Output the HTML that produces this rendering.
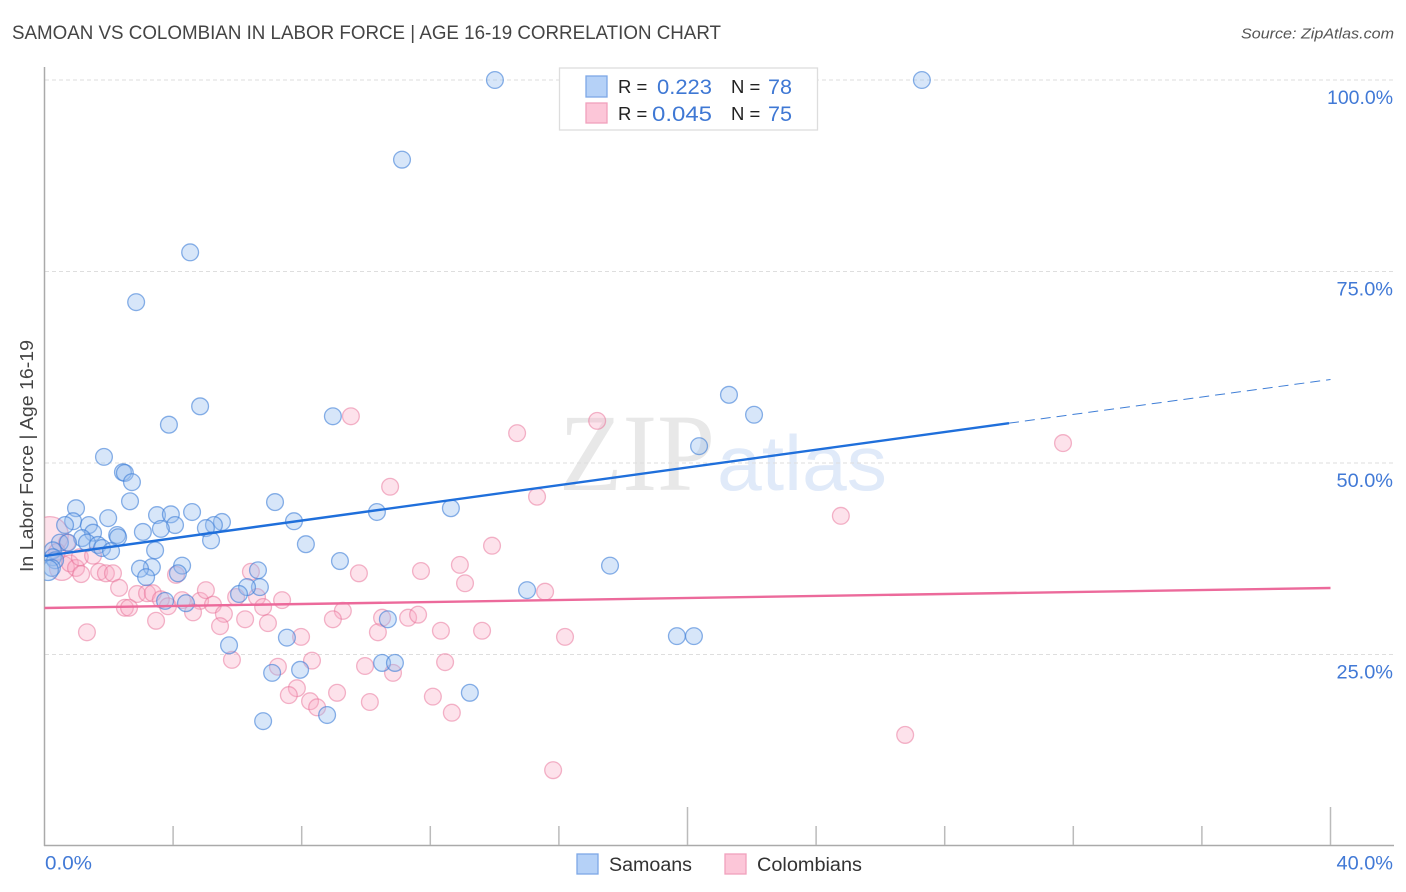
<!DOCTYPE html>
<html lang="en">
<head>
<meta charset="utf-8">
<title>Samoan vs Colombian in Labor Force | Age 16-19 Correlation Chart</title>
<style>
html,body{margin:0;padding:0;background:#fff;width:1406px;height:892px;overflow:hidden}
svg{display:block;font-family:"Liberation Sans",sans-serif}
</style>
</head>
<body>
<svg id="chart" width="1406" height="892" viewBox="0 0 1406 892" xmlns="http://www.w3.org/2000/svg">
<defs><clipPath id="plot-clip"><rect x="44.5" y="60" width="1350" height="786"/></clipPath></defs>
<rect x="0" y="0" width="1406" height="892" fill="#fff"/>
<text x="12" y="39" font-size="19" fill="#444" textLength="709" lengthAdjust="spacingAndGlyphs">SAMOAN VS COLOMBIAN IN LABOR FORCE | AGE 16-19 CORRELATION CHART</text>
<text x="1241" y="38.5" font-size="15" font-style="italic" fill="#555" textLength="153" lengthAdjust="spacingAndGlyphs">Source: ZipAtlas.com</text>
<text transform="translate(33,572) rotate(-90)" font-size="18.5" fill="#444" textLength="232" lengthAdjust="spacingAndGlyphs">In Labor Force | Age 16-19</text>
<g>
<text x="559" y="490" font-family="'Liberation Serif',serif" font-size="110" fill="#e8e8e8" textLength="156" lengthAdjust="spacingAndGlyphs">ZIP</text>
<text x="717" y="490" font-size="78" fill="#e0eaf9" textLength="170" lengthAdjust="spacingAndGlyphs">atlas</text>
</g>
<g id="grid"></g>
<g id="axes"></g>
<g id="points" clip-path="url(#plot-clip)"></g>
<g id="trends"></g>
<g id="labels"></g>
<g>
<rect x="559.5" y="68" width="258" height="62" fill="#fff" stroke="#ddd" stroke-width="1.3"/>
<rect x="586" y="76" width="21" height="21" fill="#b5d1f7" stroke="#7ea8e6" stroke-width="1.3"/>
<text x="618" y="93" font-size="18.5" fill="#222">R =</text>
<text x="657" y="94" font-size="21.5" fill="#3f78d4" textLength="55" lengthAdjust="spacingAndGlyphs">0.223</text>
<text x="731" y="93" font-size="18.5" fill="#222">N =</text>
<text x="768" y="94" font-size="21.5" fill="#3f78d4" textLength="24" lengthAdjust="spacingAndGlyphs">78</text>
<rect x="586" y="103" width="21" height="20" fill="#fcc6d8" stroke="#f0a0bc" stroke-width="1.3"/>
<text x="618" y="120" font-size="18.5" fill="#222">R =</text>
<text x="652" y="121" font-size="21.5" fill="#3f78d4" textLength="60" lengthAdjust="spacingAndGlyphs">0.045</text>
<text x="731" y="120" font-size="18.5" fill="#222">N =</text>
<text x="768" y="121" font-size="21.5" fill="#3f78d4" textLength="24" lengthAdjust="spacingAndGlyphs">75</text>
</g>
<g>
<rect x="577" y="854" width="21" height="20" fill="#b5d1f7" stroke="#7ea8e6" stroke-width="1.3"/>
<text x="609" y="871" font-size="19" fill="#333" textLength="83" lengthAdjust="spacingAndGlyphs">Samoans</text>
<rect x="725" y="854" width="21" height="20" fill="#fcc6d8" stroke="#f0a0bc" stroke-width="1.3"/>
<text x="757" y="871" font-size="19" fill="#333" textLength="105" lengthAdjust="spacingAndGlyphs">Colombians</text>
</g>
</svg>
<script>
const xTicks = [0, 4, 8, 12, 16, 20, 24, 28, 32, 36, 40];
const majorXTicks = [20, 40];
const yTicks = [25, 50, 75, 100];
const yTickLabels = ["25.0%", "50.0%", "75.0%", "100.0%"];
const xEndTicks = [0, 40];
const xEndLabels = ["0.0%", "40.0%"];

const samoanX = [14.01,27.29,11.12,4.53,2.85,21.29,22.07,8.97,4.84,3.87,20.36,1.85,2.44,2.50,2.72,2.66,7.17,0.98,4.59,3.50,3.93,12.64,10.34,7.76,0.89,0.64,1.38,1.98,5.52,5.27,5.02,4.06,3.62,3.06,1.51,1.17,2.26,2.29,5.18,8.13,0.48,0.73,1.32,1.66,1.79,2.07,3.44,9.19,17.59,4.28,4.15,3.34,2.97,3.16,6.64,0.26,0.26,0.33,0.23,0.11,15.01,6.70,6.30,6.05,3.75,4.40,10.68,7.54,5.74,19.67,20.20,10.50,10.90,7.08,7.95,13.23,8.79,6.80];
const samoanY = [100,100,89.6,77.5,71.0,58.9,56.3,56.1,57.4,55.0,52.2,50.8,48.8,48.7,47.5,45.0,44.9,44.1,43.6,43.2,43.3,44.1,43.6,42.4,42.4,41.9,41.9,42.8,42.3,41.9,41.5,41.9,41.4,41.0,40.9,40.2,40.6,40.3,39.9,39.4,39.6,39.6,39.6,39.3,38.9,38.5,38.6,37.2,36.6,36.6,35.6,36.4,36.2,35.1,36.0,38.6,37.7,37.3,36.3,36.0,33.4,33.8,33.8,32.9,32.0,31.7,29.6,27.2,26.2,27.4,27.4,23.9,23.9,22.6,23.0,20.0,17.1,16.3];
const samoanWeight = [1,1,1,1,1,1,1,1,1,1,1,1,1,1,1,1,1,1,1,1,1,1,1,1,1,1,1,1,1,1,1,1,1,1,1,1,1,1,1,1,1,1,1,1,1,1,1,1,1,1,1,1,1,1,1,1,1,1,1,1.5,1,1,1,1,1,1,1,1,1,1,1,1,1,1,1,1,1,1];

const colombianX = [0.17,0.54,0.79,0.98,1.14,1.10,1.51,1.70,1.91,2.13,2.32,2.88,2.50,2.63,3.19,3.37,3.62,3.84,3.47,4.28,4.84,5.02,5.24,4.62,5.58,5.46,6.24,5.96,6.61,6.80,6.95,7.39,6.42,4.09,1.32,5.83,7.98,0.70,0.39,9.78,11.71,12.92,13.08,13.92,9.28,8.97,10.50,11.31,11.62,10.37,12.33,13.61,8.32,7.26,9.97,12.46,10.84,7.85,7.60,9.10,8.26,8.48,10.12,12.08,12.67,9.53,10.75,14.70,17.19,15.32,31.68,24.77,26.77,15.82,15.57,16.19];
const colombianY = [40.6,36.3,36.9,36.3,35.5,37.7,37.9,35.8,35.6,35.6,33.7,32.9,31.1,31.1,33.0,33.0,32.2,31.3,29.4,32.1,32.0,33.4,31.5,30.5,30.3,28.7,29.6,32.5,32.5,31.2,29.1,32.1,35.8,35.4,27.9,24.3,27.3,39.6,38.4,35.6,35.9,36.7,34.3,39.2,30.7,29.6,29.8,29.8,30.2,27.9,28.1,28.1,24.2,23.4,23.5,24.0,22.6,20.6,19.7,20.0,18.9,18.1,18.8,19.5,17.4,56.1,46.9,53.9,55.5,45.6,52.6,43.1,14.5,9.9,33.2,27.3];
const colombianWeight = [4.8,2.2,1,1,1,1,1,1,1,1,1,1,1,1,1,1,1,1,1,1,1,1,1,1,1,1,1,1,1,1,1,1,1,1,1,1,1,1,1,1,1,1,1,1,1,1,1,1,1,1,1,1,1,1,1,1,1,1,1,1,1,1,1,1,1,1,1,1,1,1,1,1,1,1,1,1];

const samoanTrendX = [0, 30];
const samoanTrendY = [37.86, 55.2];
const samoanForecastX = [30, 40];
const samoanForecastY = [55.2, 60.9];
const colombianTrendX = [0, 40];
const colombianTrendY = [31.07, 33.68];

const SVG_NS = "http://www.w3.org/2000/svg";
const xScale = v => 44.5 + v * 32.15;
const yScale = v => 846 - v * 7.66;
const rScale = w => 8.4 * Math.sqrt(w);
const labelWidth = s => 9.5 * s.length + 9;

function make(parent, tag, attrs) {
  const el = document.createElementNS(SVG_NS, tag);
  for (const k in attrs) el.setAttribute(k, attrs[k]);
  parent.appendChild(el);
  return el;
}

const grid = document.getElementById("grid");
const axes = document.getElementById("axes");
const points = document.getElementById("points");
const trends = document.getElementById("trends");
const labels = document.getElementById("labels");

yTicks.forEach((t, i) => {
  const line = make(grid, "line", {x1: 45, x2: 1394, y1: yScale(t), y2: yScale(t), stroke: "#dedede", "stroke-width": 1, "stroke-dasharray": "4 3"});
  
  
  const label = make(labels, "text", {x: 1393, y: yScale(t) + 24, "text-anchor": "end", "font-size": 19.5, fill: "#4179d6", textLength: labelWidth(yTickLabels[i]), lengthAdjust: "spacingAndGlyphs"});
  
  
  label.textContent = yTickLabels[i];
});

const yAxis = make(axes, "line", {x1: 44.5, x2: 44.5, y1: 67, y2: 846, stroke: "#aaa", "stroke-width": 1.5});


const xAxis = make(axes, "line", {x1: 44, x2: 1394, y1: 845.5, y2: 845.5, stroke: "#aaa", "stroke-width": 1.5});



xTicks.slice(1).forEach(t => {
  const top = majorXTicks.includes(t) ? 807 : 826;
  const tick = make(axes, "line", {x1: xScale(t), x2: xScale(t), y1: top, y2: 845, stroke: "#bbb", "stroke-width": 1.5});
  
  
});

xEndTicks.forEach((t, i) => {
  const label = make(labels, "text", {x: i === 0 ? xScale(t) + 0.5 : xScale(t) + 62.5, y: 869.5, "text-anchor": i === 0 ? "start" : "end", "font-size": 19.5, fill: "#4179d6", textLength: labelWidth(xEndLabels[i]), lengthAdjust: "spacingAndGlyphs"});
  
  
  label.textContent = xEndLabels[i];
});

colombianX.forEach((x, i) => {
  const dot = make(points, "circle", {cx: xScale(x), cy: yScale(colombianY[i]), r: rScale(colombianWeight[i]), fill: "rgba(248,170,195,0.34)", stroke: "rgba(232,110,150,0.5)", "stroke-width": 1.3});
  
  
});

samoanX.forEach((x, i) => {
  const dot = make(points, "circle", {cx: xScale(x), cy: yScale(samoanY[i]), r: rScale(samoanWeight[i]), fill: "rgba(150,190,240,0.38)", stroke: "rgba(60,125,215,0.6)", "stroke-width": 1.3});
  
  
});

const colombianTrend = make(trends, "line", {x1: xScale(colombianTrendX[0]), y1: yScale(colombianTrendY[0]), x2: xScale(colombianTrendX[1]), y2: yScale(colombianTrendY[1]), stroke: "#ec6a9b", "stroke-width": 2.4});



const samoanTrend = make(trends, "line", {x1: xScale(samoanTrendX[0]), y1: yScale(samoanTrendY[0]), x2: xScale(samoanTrendX[1]), y2: yScale(samoanTrendY[1]), stroke: "#1f6fdb", "stroke-width": 2.4});



const samoanForecast = make(trends, "line", {x1: xScale(samoanForecastX[0]), y1: yScale(samoanForecastY[0]), x2: xScale(samoanForecastX[1]), y2: yScale(samoanForecastY[1]), stroke: "#3f7ed6", "stroke-width": 1, "stroke-dasharray": "10 6"});


</script>
</body>
</html>
